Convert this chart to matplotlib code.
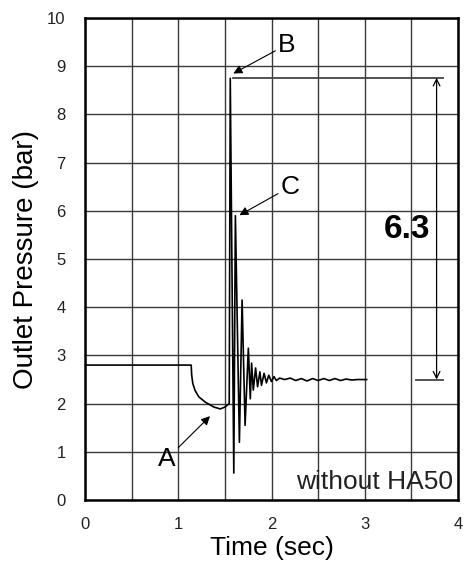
import matplotlib
matplotlib.use("Agg")
import matplotlib.pyplot as plt

plt.rcParams['font.family'] = ['Liberation Sans', 'DejaVu Sans']

# outlet pressure trace
t = [0.0, 1.138, 1.143, 1.155, 1.18, 1.22, 1.29, 1.38, 1.45, 1.50, 1.546,
     1.557, 1.595, 1.612, 1.655, 1.684, 1.716, 1.751, 1.772,
     1.786, 1.804, 1.829, 1.850, 1.875, 1.892, 1.920, 1.945, 1.970, 1.998,
     2.027, 2.051, 2.087, 2.14, 2.20, 2.26, 2.32, 2.38, 2.44, 2.50, 2.56,
     2.62, 2.68, 2.74, 2.80, 2.86, 2.92, 2.98, 3.02]
p = [2.80, 2.80, 2.60, 2.42, 2.27, 2.14, 2.03, 1.93, 1.89, 1.93, 2.00,
     8.75, 0.56, 5.90, 1.20, 4.15, 1.55, 3.15, 2.10,
     2.84, 2.28, 2.74, 2.35, 2.66, 2.38, 2.63, 2.43, 2.59, 2.46,
     2.56, 2.48, 2.53, 2.50, 2.53, 2.48, 2.52, 2.47, 2.52, 2.48, 2.52,
     2.48, 2.52, 2.48, 2.51, 2.49, 2.50, 2.50, 2.50]

peak = 8.76
settle = 2.5
rise = 6.3

fig = plt.figure(figsize=(4.65, 5.65), dpi=100)
ax = fig.add_axes([0.183, 0.115, 0.802, 0.853])

ax.plot(t, p, color='k', lw=1.2)

ax.set_xlim(0, 4)
ax.set_ylim(0, 10)
ax.set_xticks([0, 1, 2, 3, 4])
ax.set_xticks([0.5, 1.5, 2.5, 3.5], minor=True)
ax.set_yticks(range(0, 11))
ax.grid(True, which='both', color='#3a3a3a', lw=1.0)
ax.tick_params(which='both', length=0, labelsize=12, pad=12,
               labelcolor='#222222')
ax.tick_params(axis='y', pad=14)
for s in ax.spines.values():
    s.set_linewidth(1.8)

ax.set_xlabel('Time (sec)', fontsize=19, labelpad=3)
ax.set_ylabel('Outlet Pressure (bar)', fontsize=20, labelpad=6)

# reference lines and 6.3 bar span
ax.plot([1.59, 3.84], [peak, peak], color='#444444', lw=1.3)
ax.plot([3.55, 3.84], [settle, settle], color='#444444', lw=1.3)
ax.annotate('', xy=(3.77, peak), xytext=(3.77, settle),
            arrowprops=dict(arrowstyle='<->', lw=0.9, color='k',
                            mutation_scale=12, shrinkA=0, shrinkB=0))
ax.text(3.45, 5.62, f'{rise}', fontsize=24, fontweight='bold',
        ha='center', va='center')

# A B C markers
arrow = dict(arrowstyle='-|>', lw=0.8, color='k', mutation_scale=13,
             shrinkA=0, shrinkB=0)
ax.annotate('B', xy=(1.59, 8.85), xytext=(2.07, 9.45), fontsize=19,
            ha='left', va='center', arrowprops=arrow)
ax.annotate('C', xy=(1.655, 5.91), xytext=(2.10, 6.5), fontsize=19,
            ha='left', va='center', arrowprops=arrow)
ax.annotate('A', xy=(1.34, 1.74), xytext=(0.97, 0.85), fontsize=19,
            ha='right', va='center', arrowprops=arrow)

ax.text(3.95, 0.37, 'without HA50', fontsize=19, ha='right', va='center',
        color='#222222')

fig.savefig('out.png', dpi=100)
